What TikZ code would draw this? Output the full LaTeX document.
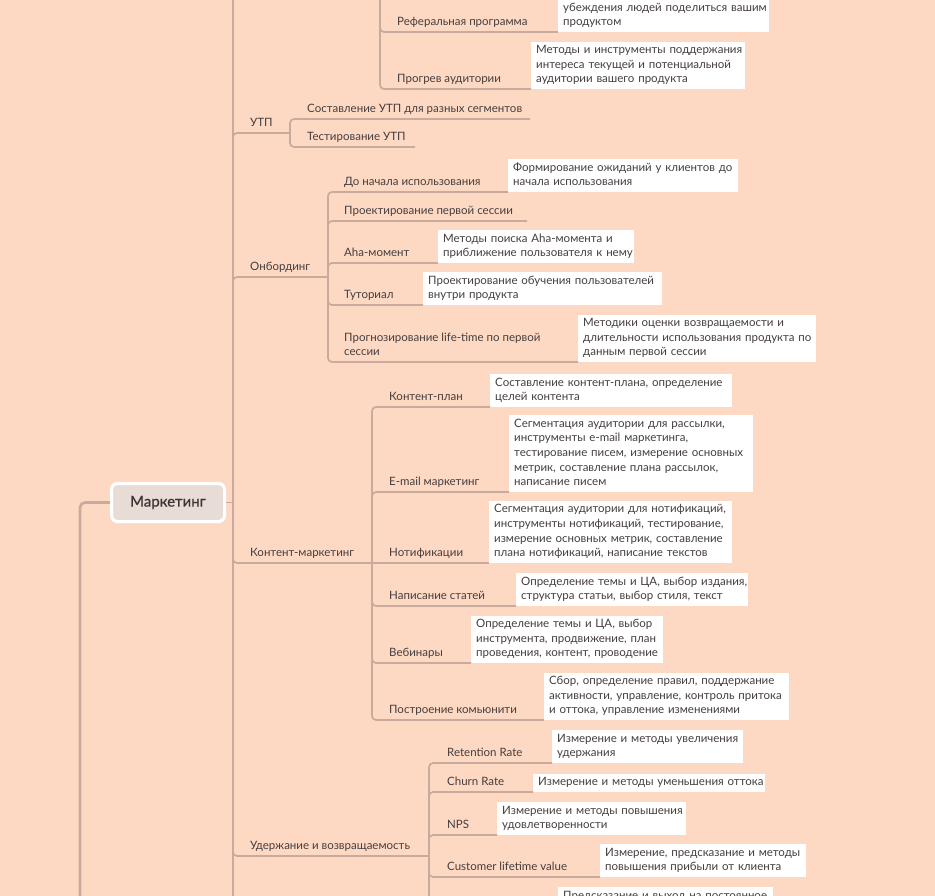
\documentclass[tikz,border=0pt]{standalone}
\usepackage{fontspec}
\setmainfont{Lato}
\usetikzlibrary{calc}
\definecolor{bg}{HTML}{FDD9C4}
\definecolor{lnc}{HTML}{C8AB9C}
\definecolor{txt}{HTML}{463E3E}
\definecolor{rootfill}{HTML}{E8DDD6}
\newcommand\tline[1]{\mbox{\strut #1}}
\newcommand\lf{\fontsize{11.5}{14.6}\selectfont}
\newcommand\kidB[2]{\draw[ln] ($(#1 |- #2)+(0,5)$) |- (#2);}
\newcommand\kidA[2]{\draw[ln] ($(#1 |- #2)+(0,-5)$) |- (#2);}
\newcommand\kidS[2]{\draw[ln] (#1 |- #2) -- (#2);}
\tikzset{
  ln/.style={draw=lnc, line width=1.7pt, rounded corners=4pt},
  lnk/.style={draw=lnc, line width=2.6pt, rounded corners=5pt},
  lbl/.style={anchor=south west, inner sep=0pt, yshift=-1pt, text=txt, font=\lf, align=left},
  bx/.style={anchor=south west, fill=white, inner xsep=5pt, inner ysep=1.7pt, text=txt, font=\lf, align=left, text width=#1},
  rootbox/.style={fill=rootfill, draw=white, line width=3pt, rounded corners=6pt, minimum width=113pt, minimum height=38pt, text=txt!85!black, font=\fontsize{15}{18}\selectfont\addfontfeatures{FakeBold=0.7}},
}
\begin{document}
\begin{tikzpicture}[x=1pt,y=-1pt]
\useasboundingbox (0,0) rectangle (935,896);
\clip (0,0) rectangle (935,896);
\fill[bg] (0,0) rectangle (935,896);

% root
\node[rootbox] (root) at (168,502.5) {Маркетинг};

% spine anchors
\coordinate (sT) at (233,502.5);
\coordinate (sR) at (380,0);
\coordinate (sU) at (290,133);
\coordinate (sO) at (328,277);
\coordinate (sC) at (372,563);
\coordinate (sD) at (429,856);
\coordinate (sL) at (80,502.5);
\coordinate (tTop) at (233,-5);
\coordinate (tBot) at (233,901);
\coordinate (sRtop) at (380,-5);
\coordinate (sDbot) at (429,901);
\coordinate (sLbot) at (80,901);

% hidden branch above: referral / warm-up
\node[lbl] (lR1) at (397,29.5) {\tline{Реферальная программа}};
\node[bx=201] (bR1) at (558,32) {\tline{убеждения людей поделиться вашим}\\\tline{продуктом}};
\node[lbl] (lR2) at (397,86.5) {\tline{Прогрев аудитории}};
\node[bx=204] (bR2) at (531,89) {\tline{Методы и инструменты поддержания}\\\tline{интереса текущей и потенциальной}\\\tline{аудитории вашего продукта}};

% UTP
\node[lbl] (lU) at (250,130.5) {\tline{УТП}};
\node[lbl] (lU1) at (307,116.5) {\tline{Составление УТП для разных сегментов}};
\coordinate (eU1) at (530,119);
\node[lbl] (lU2) at (307,144.5) {\tline{Тестирование УТП}};
\coordinate (eU2) at (415,147);

% Onboarding
\node[lbl] (lO) at (250,274.5) {\tline{Онбординг}};
\node[lbl] (lO1) at (344,189.5) {\tline{До начала использования}};
\node[bx=220] (bO1) at (508,192) {\tline{Формирование ожиданий у клиентов до}\\\tline{начала использования}};
\node[lbl] (lO2) at (344,218.5) {\tline{Проектирование первой сессии}};
\coordinate (eO2) at (527,221);
\node[lbl] (lO3) at (344,260.5) {\tline{Aha-момент}};
\node[bx=186] (bO3) at (438,263) {\tline{Методы поиска Aha-момента и}\\\tline{приближение пользователя к нему}};
\node[lbl] (lO4) at (344,302.5) {\tline{Туториал}};
\node[bx=229] (bO4) at (423,305) {\tline{Проектирование обучения пользователей}\\\tline{внутри продукта}};
\node[lbl] (lO5) at (344,359.5) {\tline{Прогнозирование life-time по первой}\\\tline{сессии}};
\node[bx=228] (bO5) at (578,362) {\tline{Методики оценки возвращаемости и}\\\tline{длительности использования продукта по}\\\tline{данным первой сессии}};

% Content marketing
\node[lbl] (lC) at (250,560.5) {\tline{Контент-маркетинг}};
\node[lbl] (lC1) at (389,404.5) {\tline{Контент-план}};
\node[bx=232] (bC1) at (490,407) {\tline{Составление контент-плана, определение}\\\tline{целей контента}};
\node[lbl] (lC2) at (389,489.5) {\tline{E-mail маркетинг}};
\node[bx=234] (bC2) at (509,492) {\tline{Сегментация аудитории для рассылки,}\\\tline{инструменты e-mail маркетинга,}\\\tline{тестирование писем, измерение основных}\\\tline{метрик, составление плана рассылок,}\\\tline{написание писем}};
\node[lbl] (lC3) at (389,560.5) {\tline{Нотификации}};
\node[bx=233] (bC3) at (489,563) {\tline{Сегментация аудитории для нотификаций,}\\\tline{инструменты нотификаций, тестирование,}\\\tline{измерение основных метрик, составление}\\\tline{плана нотификаций, написание текстов}};
\node[lbl] (lC4) at (389,603.5) {\tline{Написание статей}};
\node[bx=222] (bC4) at (516,606) {\tline{Определение темы и ЦА, выбор издания,}\\\tline{структура статьи, выбор стиля, текст}};
\node[lbl] (lC5) at (389,660.5) {\tline{Вебинары}};
\node[bx=182] (bC5) at (471,663) {\tline{Определение темы и ЦА, выбор}\\\tline{инструмента, продвижение, план}\\\tline{проведения, контент, проводение}};
\node[lbl] (lC6) at (389,717.5) {\tline{Построение комьюнити}};
\node[bx=235] (bC6) at (544,720) {\tline{Сбор, определение правил, поддержание}\\\tline{активности, управление, контроль притока}\\\tline{и оттока, управление изменениями}};

% Retention
\node[lbl] (lD) at (250,853.5) {\tline{Удержание и возвращаемость}};
\node[lbl] (lD1) at (447,760.5) {\tline{Retention Rate}};
\node[bx=181] (bD1) at (552,763) {\tline{Измерение и методы увеличения}\\\tline{удержания}};
\node[lbl] (lD2) at (447,789.5) {\tline{Churn Rate}};
\node[bx=222] (bD2) at (533,792) {\tline{Измерение и методы уменьшения оттока}};
\node[lbl] (lD3) at (447,832.5) {\tline{NPS}};
\node[bx=179] (bD3) at (497,835) {\tline{Измерение и методы повышения}\\\tline{удовлетворенности}};
\node[lbl] (lD4) at (447,874.5) {\tline{Customer lifetime value}};
\node[bx=196] (bD4) at (600,877) {\tline{Измерение, предсказание и методы}\\\tline{повышения прибыли от клиента}};
\node[bx=205, anchor=north west] (bD5) at (558,887) {\tline{Предсказание и выход на постоянное}};

% ---- connectors ----
% left line into root
\draw[lnk] (sLbot) -- (sL) -- (root.west);
% root to trunk
\draw[ln] (root.east) -- (root.east -| sT);
% trunk
\draw[ln] (tTop) -- (tBot);
\kidB{sT}{sU}
\kidB{sT}{sO}
\kidA{sT}{sC}
\kidA{sT}{sD}

% referral spine
\draw[ln] (sRtop) -- ($(sR |- bR2.south west)+(0,-5)$);
\kidA{sR}{bR1.south west}
\kidA{sR}{bR2.south west}

% UTP spine
\draw[ln] ($(sU |- eU1)+(0,5)$) -- ($(sU |- eU2)+(0,-5)$);
\kidB{sU}{eU1}
\kidA{sU}{eU2}

% Onboarding spine
\draw[ln] ($(sO |- bO1.south west)+(0,5)$) -- ($(sO |- bO5.south west)+(0,-5)$);
\kidB{sO}{bO1.south west}
\kidB{sO}{eO2}
\kidB{sO}{bO3.south west}
\kidA{sO}{bO4.south west}
\kidA{sO}{bO5.south west}

% Content spine
\draw[ln] ($(sC |- bC1.south west)+(0,5)$) -- ($(sC |- bC6.south west)+(0,-5)$);
\kidB{sC}{bC1.south west}
\kidB{sC}{bC2.south west}
\kidS{sC}{bC3.south west}
\kidA{sC}{bC4.south west}
\kidA{sC}{bC5.south west}
\kidA{sC}{bC6.south west}

% Retention spine
\draw[ln] ($(sD |- bD1.south west)+(0,5)$) -- (sDbot);
\kidB{sD}{bD1.south west}
\kidB{sD}{bD2.south west}
\kidB{sD}{bD3.south west}
\kidA{sD}{bD4.south west}
\kidA{sD}{bD5.south west}
\end{tikzpicture}
\end{document}
